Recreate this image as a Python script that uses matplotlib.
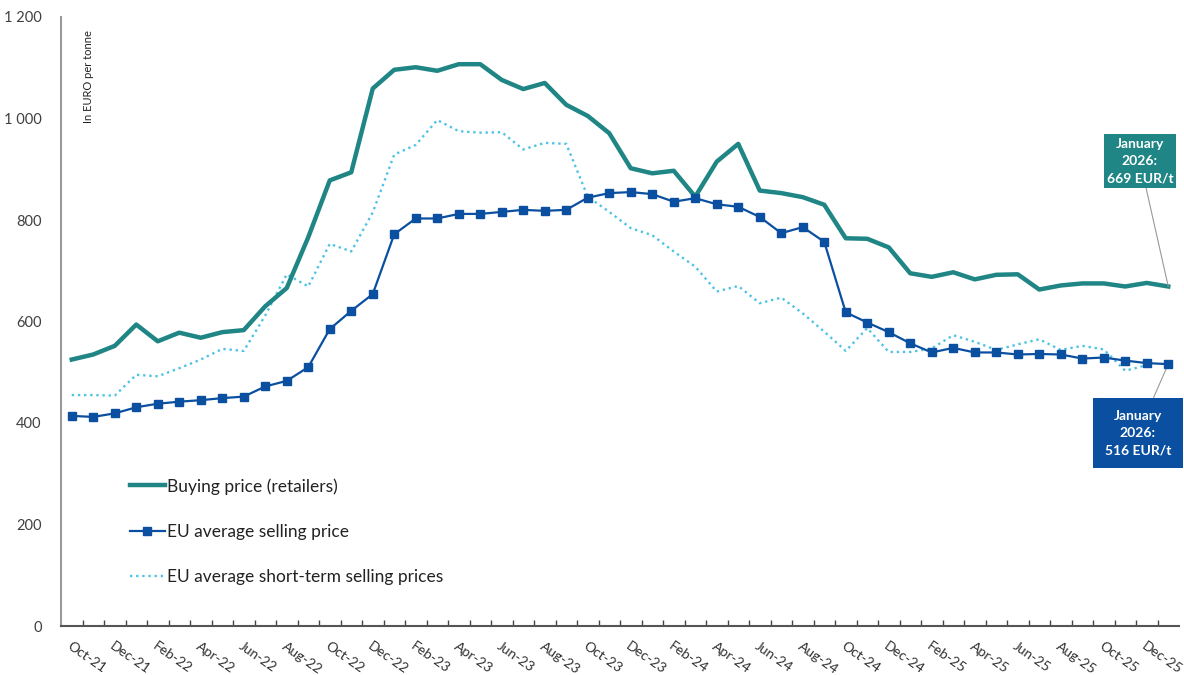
import numpy as np
import pandas as pd
import matplotlib
matplotlib.use("Agg")
import matplotlib.pyplot as plt
from matplotlib.ticker import FuncFormatter, FixedLocator

plt.rcParams['font.family'] = ['Lato', 'DejaVu Sans']

# monthly prices in EUR per tonne, Oct-21 .. Jan-26
months = pd.date_range('2021-10-01', periods=52, freq='MS').strftime('%b-%y').tolist()

buying = [525, 535, 552, 594, 561, 578, 568, 579, 583, 630, 666, 766,
          878, 894, 1059, 1096, 1101, 1094, 1107, 1107, 1076, 1058, 1070, 1027,
          1005, 971, 902, 892, 897, 846, 915, 950, 858, 853, 845, 830,
          764, 763, 746, 695, 688, 697, 683, 692, 693, 663, 671, 675,
          675, 669, 676, 669]

selling = [414, 412, 419, 431, 438, 442, 445, 449, 452, 472, 483, 510,
           585, 621, 654, 772, 803, 803, 812, 812, 816, 820, 818, 820,
           844, 853, 855, 851, 836, 843, 831, 826, 806, 774, 786, 757,
           618, 598, 579, 557, 539, 548, 539, 539, 535, 536, 535, 527,
           529, 523, 518, 516]

short_term = [455, 455, 454, 495, 492, 508, 525, 546, 542, 612, 693, 669,
              753, 738, 815, 929, 948, 997, 975, 972, 973, 939, 952, 950,
              846, 816, 784, 770, 738, 708, 659, 670, 636, 647, 616, 580,
              542, 587, 540, 540, 547, 573, 560, 544, 555, 565, 544, 552,
              545, 503, 514, np.nan]

TEAL = '#1f8585'
BLUE = '#0a4fa0'
LIGHT = '#4fc3e3'

x = np.arange(len(months))

fig = plt.figure(figsize=(11.84, 6.75), dpi=100)
ax = fig.add_axes([61 / 1184, 1 - 626 / 675, 1118 / 1184, 609 / 675])

ax.plot(x, buying, color=TEAL, lw=3.2, label='Buying price (retailers)', zorder=3)
ax.plot(x, selling, color=BLUE, lw=1.6, marker='s', markersize=5.5,
        label='EU average selling price', zorder=4)
ax.plot(x, short_term, color=LIGHT, lw=1.7, ls=(0, (1, 1.6)),
        label='EU average short-term selling prices', zorder=2)

ax.set_xlim(-0.5, len(months) - 0.5)
ax.set_ylim(0, 1200)
ax.set_yticks(range(0, 1201, 200))
ax.yaxis.set_major_formatter(FuncFormatter(lambda v, p: f'{int(v):,}'.replace(',', ' ')))
ax.tick_params(axis='y', length=0, pad=14, labelsize=10.5, labelcolor='#404040')

ax.set_xticks(x[::2])
ax.set_xticklabels(months[::2], rotation=-35, ha='left', va='top',
                   rotation_mode='anchor', fontsize=10, color='#303030')
ax.tick_params(axis='x', which='major', length=0, pad=10)
ax.xaxis.set_minor_locator(FixedLocator(np.arange(0.5, len(months) - 0.5, 1)))
ax.tick_params(axis='x', which='minor', direction='in', length=4, width=1, color='#444444')

for s in ['top', 'right']:
    ax.spines[s].set_visible(False)
ax.spines['left'].set_color('#999999')
ax.spines['left'].set_linewidth(1.5)
ax.spines['bottom'].set_color('#555555')
ax.spines['bottom'].set_linewidth(1.5)

fig.text(88 / 1184, 1 - 30 / 675, 'In EURO per tonne', rotation=90,
         ha='center', va='top', fontsize=8, color='#222222')

ax.legend(loc='upper left', bbox_to_anchor=(130 / 1184, 1 - 478 / 675),
          bbox_transform=fig.transFigure, frameon=False, fontsize=12.5,
          labelspacing=1.68, handlelength=2.0, handletextpad=0.12,
          borderpad=0, borderaxespad=0, labelcolor='#222222')

# callouts for the latest month
last = len(months) - 1
ax.annotate(f'January\n2026:\n{buying[-1]} EUR/t', xy=(last, buying[-1]),
            xytext=(1140, 675 - 161), textcoords='figure pixels',
            ha='center', va='center', fontsize=10, fontweight='bold', color='white',
            linespacing=1.55, annotation_clip=False,
            bbox=dict(boxstyle='square,pad=0.22', fc=TEAL, ec='none'),
            arrowprops=dict(arrowstyle='-', color='#999999', lw=0.8,
                            shrinkA=0, shrinkB=0))
ax.annotate(f'January\n2026:\n{selling[-1]} EUR/t', xy=(last, selling[-1]),
            xytext=(1138, 675 - 433), textcoords='figure pixels',
            ha='center', va='center', fontsize=10, fontweight='bold', color='white',
            linespacing=1.55, annotation_clip=False,
            bbox=dict(boxstyle='square,pad=0.85', fc=BLUE, ec='none'),
            arrowprops=dict(arrowstyle='-', color='#999999', lw=0.8,
                            shrinkA=0, shrinkB=0))

fig.savefig('out.png', dpi=100)
